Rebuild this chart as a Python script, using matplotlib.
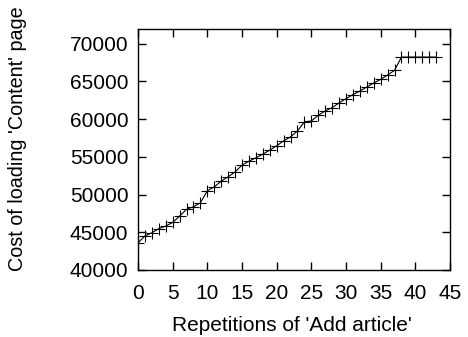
import matplotlib
matplotlib.use("Agg")
import matplotlib.pyplot as plt

plt.rcParams['font.family'] = ['Liberation Sans', 'DejaVu Sans']

repetitions = list(range(0, 44))
cost = [43600, 44500, 44930, 45470, 45820, 46300, 47140, 48030, 48380, 48900,
        50490, 51020, 51770, 52340, 53000, 53890, 54420, 54860, 55350, 55880,
        56450, 57110, 57640, 58430, 59620, 59750, 60500, 61080, 61520, 62130,
        62710, 63240, 63720, 64250, 64780, 65270, 65840, 66460, 68220, 68220,
        68220, 68220, 68220, 68220]

xticks = [0, 5, 10, 15, 20, 25, 30, 35, 40, 45]
yticks = [40000, 45000, 50000, 55000, 60000, 65000, 70000]

fig = plt.figure(figsize=(4.68, 3.37), dpi=100)
ax = fig.add_axes([0.2949, 0.199, 0.9615 - 0.2949, 0.913 - 0.199])
ax.plot(repetitions, cost, color='black', linewidth=0.8, marker='+',
        markersize=8, markeredgewidth=0.8)
ax.set_xlim(0, 45)
ax.set_ylim(40000, 71900)
ax.set_xticks(xticks)
ax.set_yticks(yticks)
ax.tick_params(direction='in', top=True, right=True, length=6, width=1,
               labelsize=15)
ax.tick_params(axis='x', pad=10)
ax.tick_params(axis='y', pad=7)
for s in ax.spines.values():
    s.set_linewidth(1)
ax.set_xlabel("Repetitions of 'Add article'", fontsize=15)
ax.set_ylabel("Cost of loading 'Content' page", fontsize=14.2)
ax.xaxis.label.set_va('center')
ax.yaxis.label.set_va('center')
ax.xaxis.set_label_coords(0.493, -0.23)
ax.yaxis.set_label_coords(-0.385, 0.545)
fig.savefig("out.png", dpi=100)
